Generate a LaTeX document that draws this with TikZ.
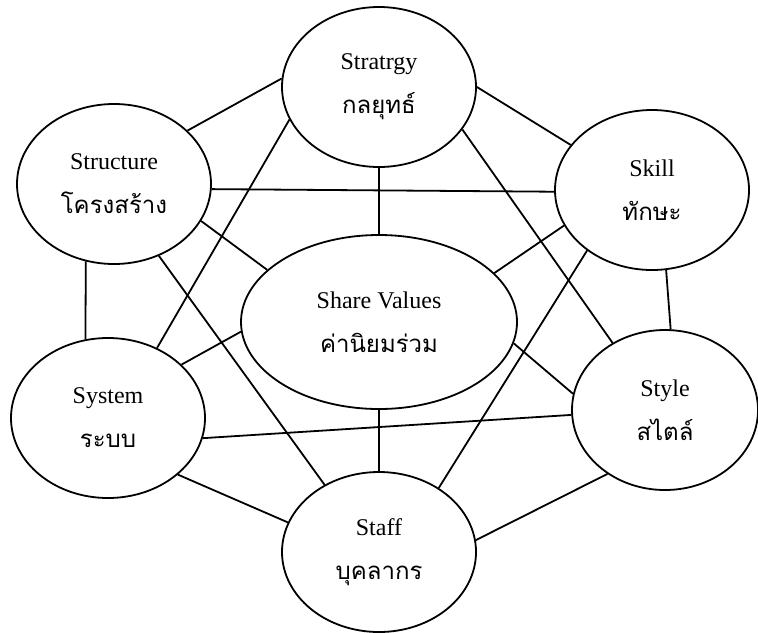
\documentclass[tikz,border=0pt]{standalone}
\usepackage{fontspec}
\setmainfont{Liberation Serif}
\newfontfamily\thaifont[Script=Thai]{Loma}
\usetikzlibrary{shapes.geometric}

\begin{document}
\begin{tikzpicture}[
    x=0.5pt, y=-0.5pt,
    factor/.style={ellipse, draw, line width=0.9pt, minimum width=97pt, minimum height=80pt, inner sep=0pt, align=center, font=\fontsize{12}{22}\selectfont},
    conn/.style={line width=0.9pt}
]
\useasboundingbox (0,0) rectangle (758,632);

% Factors
\node[factor] (strat) at (379,87) {Stratrgy\\{\thaifont กลยุทธ์}};
\node[factor] (struct) at (114,184) {Structure\\{\thaifont โครงสร้าง}};
\node[factor] (skill) at (652,190) {Skill\\{\thaifont ทักษะ}};
\node[factor, minimum width=138pt, minimum height=87pt] (share) at (379,322) {Share Values\\{\thaifont ค่านิยมร่วม}};
\node[factor] (system) at (108,418) {System\\{\thaifont ระบบ}};
\node[factor, minimum width=93pt] (style) at (665,410) {Style\\{\thaifont สไตล์}};
\node[factor] (staff) at (379,552) {Staff\\{\thaifont บุคลากร}};

% Outer ring
\draw[conn] (struct.36) -- (strat.175);
\draw[conn] (strat.0) -- (skill.151);
\draw[conn] (skill.280) -- (style.86);
\draw[conn] (style.228) -- (staff.7);
\draw[conn] (staff.162) -- (system.-39);
\draw[conn] (system.106) -- (struct.250);

% Cross links
\draw[conn] (struct.-3) -- (skill.181);
\draw[conn] (strat.200) -- (system.55);
\draw[conn] (strat.-27) -- (style.128);
\draw[conn] (struct.-58) -- (staff.129);
\draw[conn] (skill.223) -- (staff.47);
\draw[conn] (system.-12) -- (style.183);

% Links to shared values
\draw[conn] (strat.south) -- (share.north);
\draw[conn] (struct.-23) -- (share.155);
\draw[conn] (skill.202) -- (share.23);
\draw[conn] (system.36) -- (share.184);
\draw[conn] (share.-9) -- (style.170);
\draw[conn] (share.south) -- (staff.north);

\end{tikzpicture}
\end{document}
